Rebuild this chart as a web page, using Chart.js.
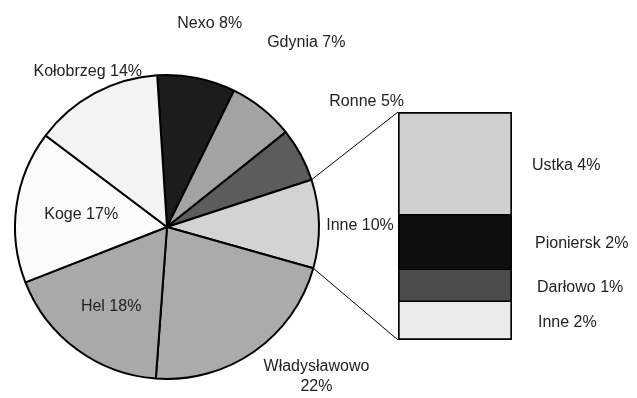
<!DOCTYPE html>
<html>
<head>
<meta charset="utf-8">
<script src="https://cdn.jsdelivr.net/npm/chart.js@4"></script>
<style>
  html, body { margin: 0; padding: 0; background: #fff; }
  #wrap { position: relative; width: 637px; height: 398px; }
  #wrap canvas { position: absolute; left: 0; top: 0; }
</style>
</head>
<body>
<div id="wrap">
  <canvas id="pie" width="637" height="398"></canvas>
  <canvas id="bar" width="637" height="398"></canvas>
</div>
<script>
// main pie: ports, clockwise from the top
const pieLabels = ["Nexo 8%", "Gdynia 7%", "Ronne 5%", "Inne 10%", "Władysławowo\n22%", "Hel 18%", "Koge 17%", "Kołobrzeg 14%"];
const pieValues = [8.3, 7.0, 5.7, 9.4, 21.8, 17.9, 16.2, 13.7];
const pieColors = ["#1c1c1c", "#a3a3a3", "#5c5c5c", "#d3d3d3", "#ababab", "#a9a9a9", "#fbfbfb", "#f3f3f3"];

// breakdown of "Inne 10%", top to bottom
const barLabels = ["Ustka 4%", "Pioniersk 2%", "Darłowo 1%", "Inne 2%"];
const barValues = [4.5, 2.4, 1.4, 1.7];
const barColors = ["#d0d0d0", "#0e0e0e", "#4b4b4b", "#ececec"];

const FONT = "16px 'Liberation Sans', Arial, sans-serif";
const TEXT = "#222";

// where each pie label sits: [angle shift in degrees, distance as share of radius]
const pieLabelPos = [[0.6, 1.37], [-1.7, 1.52], [-3.7, 1.55], [0.9, 1.27], [-10, 1.39], [-1.4, 0.64], [0.1, 0.57], [1.4, 1.15]];

const pieLabelPlugin = {
  id: "pieLabels",
  afterDatasetsDraw(chart) {
    const ctx = chart.ctx;
    const arcs = chart.getDatasetMeta(0).data;
    ctx.save();
    ctx.font = FONT;
    ctx.fillStyle = TEXT;
    ctx.textAlign = "center";
    ctx.textBaseline = "middle";
    arcs.forEach((arc, i) => {
      const p = arc.getProps(["x", "y", "startAngle", "endAngle", "outerRadius"], true);
      const [shift, f] = pieLabelPos[i];
      const a = (p.startAngle + p.endAngle) / 2 + shift * Math.PI / 180;
      const x = p.x + Math.cos(a) * p.outerRadius * f;
      const y = p.y + Math.sin(a) * p.outerRadius * f;
      const lines = pieLabels[i].split("\n");
      lines.forEach((ln, k) => {
        ctx.fillText(ln, x, y + (k - (lines.length - 1) / 2) * 20);
      });
    });
    ctx.restore();
  }
};

const pieChart = new Chart(document.getElementById("pie"), {
  type: "pie",
  data: {
    labels: pieLabels,
    datasets: [{
      data: pieValues,
      backgroundColor: pieColors,
      borderColor: "#000",
      borderWidth: 2
    }]
  },
  options: {
    responsive: false,
    animation: false,
    rotation: -3.7,
    layout: { padding: { left: 14, top: 74, right: 317, bottom: 18 } },
    plugins: { legend: { display: false }, tooltip: { enabled: false } }
  },
  plugins: [pieLabelPlugin]
});

// bar segment label offsets to the right of the bar
const barLabelShift = [20, 23, 25, 26];

const barExtras = {
  id: "barExtras",
  afterDatasetsDraw(chart) {
    const ctx = chart.ctx;
    const n = chart.data.datasets.length;
    // datasets are stacked bottom-up, so the last one is the top segment
    const topBar = chart.getDatasetMeta(n - 1).data[0];
    const bottomBar = chart.getDatasetMeta(0).data[0];
    const left = topBar.x - topBar.width / 2;
    const right = topBar.x + topBar.width / 2;

    // connectors from the "Inne" slice to the bar
    const arc = pieChart.getDatasetMeta(0).data[3].getProps(["x", "y", "startAngle", "endAngle", "outerRadius"], true);
    ctx.save();
    ctx.strokeStyle = "#000";
    ctx.lineWidth = 1;
    ctx.beginPath();
    ctx.moveTo(arc.x + Math.cos(arc.startAngle) * arc.outerRadius, arc.y + Math.sin(arc.startAngle) * arc.outerRadius);
    ctx.lineTo(left, topBar.y);
    ctx.moveTo(arc.x + Math.cos(arc.endAngle) * arc.outerRadius, arc.y + Math.sin(arc.endAngle) * arc.outerRadius);
    ctx.lineTo(left, bottomBar.base);
    ctx.stroke();

    ctx.font = FONT;
    ctx.fillStyle = TEXT;
    ctx.textAlign = "left";
    ctx.textBaseline = "middle";
    for (let d = 0; d < n; d++) {
      const el = chart.getDatasetMeta(d).data[0];
      const i = n - 1 - d;
      ctx.fillText(barLabels[i], right + barLabelShift[i], (el.y + el.base) / 2 + 2);
    }
    ctx.restore();
  }
};

const stackOrder = barValues.map((v, i) => i).reverse();
const barChart = new Chart(document.getElementById("bar"), {
  type: "bar",
  data: {
    labels: [""],
    datasets: stackOrder.map((i, d) => ({
      label: barLabels[i],
      data: [barValues[i]],
      backgroundColor: barColors[i],
      borderColor: "#000",
      borderSkipped: false,
      borderWidth: {
        left: 2, right: 2,
        top: d === stackOrder.length - 1 ? 2 : 1,
        bottom: d === 0 ? 2 : 1
      }
    }))
  },
  options: {
    responsive: false,
    animation: false,
    layout: { padding: { left: 398, right: 125, top: 112, bottom: 58 } },
    datasets: { bar: { barPercentage: 1, categoryPercentage: 1 } },
    scales: {
      x: { display: false, stacked: true },
      y: { display: false, stacked: true, min: 0, max: barValues.reduce((a, b) => a + b, 0) }
    },
    plugins: { legend: { display: false }, tooltip: { enabled: false } }
  },
  plugins: [barExtras]
});
</script>
</body>
</html>
